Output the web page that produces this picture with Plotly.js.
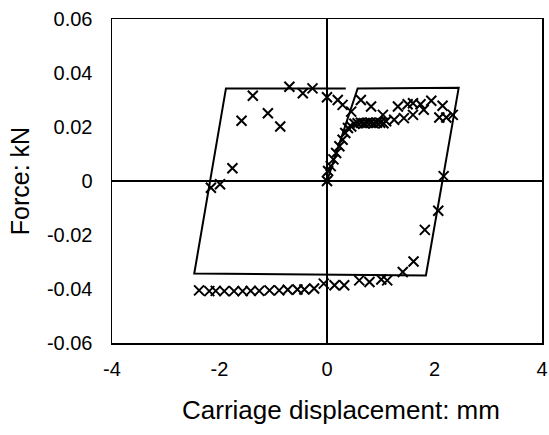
<!DOCTYPE html>
<html>
<head>
<meta charset="utf-8">
<script src="https://cdn.plot.ly/plotly-3.0.1.min.js"></script>
<style>html,body{margin:0;padding:0;background:#fff;}#chart{width:549px;height:435px;}</style>
</head>
<body>
<div id="chart"></div>
<script>
// Model hysteresis loop (solid line)
const modelX = [0, 0.57, 2.45, 1.84, -2.47, -1.88, 0.35];
const modelY = [0, 0.0343, 0.0345, -0.0350, -0.0343, 0.0343, 0.0343];

// Measured points (x markers)
const measX = [
  0, 0.02, 0.07, 0.12, 0.17, 0.23, 0.29, 0.34, 0.39, 0.45,
  0.51, 0.57, 0.63, 0.69, 0.75, 0.81, 0.87, 0.93, 0.99, 1.05, 1.10,
  1.25, 1.43, 1.60, 1.80, 2.09, 2.22, 2.34,
  0.0, 0.20, 0.29, 0.45, 0.63, 0.82, 1.04, 1.32, 1.50, 1.60, 1.74, 1.94, 2.15,
  2.17, 2.07, 1.82, 1.61, 1.41,
  1.12, 1.01, 0.79, 0.60, 0.32, 0.14, -0.06, -0.24, -0.42, -0.55, -0.73, -0.89,
  -1.07, -1.26, -1.42, -1.57, -1.73, -1.91, -2.07, -2.19, -2.38,
  -2.16, -1.99, -1.76, -1.59, -1.38, -1.10, -0.87, -0.70, -0.45, -0.27
];
const measY = [
  0, 0.0037, 0.0055, 0.0080, 0.0104, 0.0129, 0.0153, 0.0178, 0.0196, 0.0202,
  0.0212, 0.0214, 0.0216, 0.0214, 0.0216, 0.0216, 0.0214, 0.0216, 0.0216, 0.0214, 0.0221,
  0.0227, 0.0233, 0.0245, 0.0264, 0.0235, 0.0235, 0.0245,
  0.0310, 0.0300, 0.0282, 0.0257, 0.0300, 0.0276, 0.0245, 0.0276, 0.0284, 0.0288, 0.0284, 0.0297, 0.0279,
  0.0018, -0.0110, -0.0181, -0.0298, -0.0337,
  -0.0368, -0.0365, -0.0374, -0.0368, -0.0386, -0.0386, -0.0380, -0.0398, -0.0402, -0.0402, -0.0403, -0.0405,
  -0.0405, -0.0407, -0.0407, -0.0408, -0.0408, -0.0408, -0.0407, -0.0408, -0.0405,
  -0.0025, -0.0012, 0.0047, 0.0223, 0.0316, 0.0251, 0.0202, 0.0349, 0.0325, 0.0343
];

const xTicks = [-4, -2, 0, 2, 4];
const xTickText = ['-4', '-2', '0', '2', '4'];
const yTicks = [-0.06, -0.04, -0.02, 0, 0.02, 0.04, 0.06];
const yTickText = ['-0.06', '-0.04', '-0.02', '0', '0.02', '0.04', '0.06'];
const xTitle = 'Carriage displacement: mm';
const yTitle = 'Force: kN';

const traces = [
  {x: modelX, y: modelY, mode: 'lines', line: {color: '#000', width: 2}, hoverinfo: 'skip'},
  {x: measX, y: measY, mode: 'markers',
   marker: {symbol: 'x-thin-open', size: 10, color: '#000', line: {color: '#000', width: 2}}}
];

const font = {family: 'Liberation Sans, Arial, sans-serif', color: '#000'};
const layout = {
  width: 549, height: 435,
  margin: {l: 112, r: 7, t: 19, b: 92},
  paper_bgcolor: '#fff', plot_bgcolor: '#fff',
  showlegend: false,
  font: font,
  xaxis: {
    range: [-4, 4], tickvals: xTicks, ticktext: xTickText,
    showgrid: false, zeroline: true, zerolinecolor: '#000', zerolinewidth: 1.5,
    showline: true, linecolor: '#000', linewidth: 1.5, mirror: true,
    ticks: '', ticklabelstandoff: 7,
    tickfont: {family: font.family, size: 20, color: '#000'}
  },
  yaxis: {
    range: [-0.06, 0.06], tickvals: yTicks, ticktext: yTickText,
    showgrid: false, zeroline: true, zerolinecolor: '#000', zerolinewidth: 1.5,
    showline: true, linecolor: '#000', linewidth: 1.5, mirror: true,
    ticks: '', ticklabelstandoff: 14,
    tickfont: {family: font.family, size: 20, color: '#000'},
    title: {text: yTitle, font: {family: font.family, size: 25, color: '#000'}, standoff: 10}
  },
  annotations: [{
    text: xTitle, xref: 'paper', yref: 'paper', x: 0.5, y: -0.207,
    xshift: 14, xanchor: 'center', yanchor: 'middle', showarrow: false,
    font: {family: font.family, size: 26, color: '#000'}
  }]
};

Plotly.newPlot('chart', traces, layout, {displayModeBar: false, staticPlot: true});
</script>
</body>
</html>
